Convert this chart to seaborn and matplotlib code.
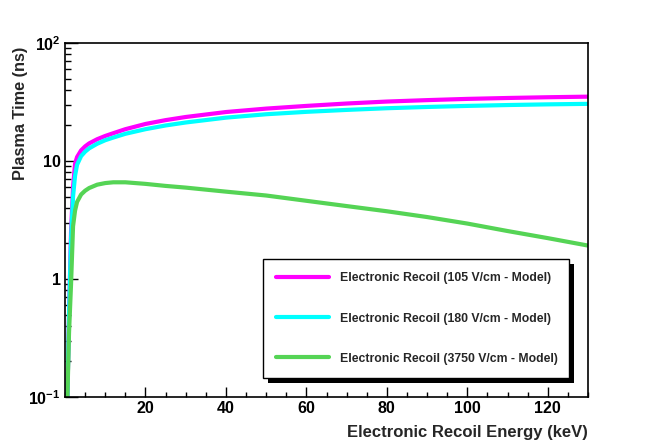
import numpy as np
import pandas as pd
import matplotlib
matplotlib.use("Agg")
import matplotlib.pyplot as plt
import seaborn as sns
from matplotlib.patches import Rectangle
from matplotlib.ticker import FixedLocator, MultipleLocator, LogLocator, NullFormatter

## Datos

energy = [0.6, 1.0, 1.5, 2.0, 2.5, 3, 4, 5, 6, 8, 10, 12, 15, 20, 25, 30,
          40, 50, 60, 70, 80, 90, 100, 110, 120, 130]

plasma_105 = [0.1, 0.5, 2.5, 6.0, 9.5, 10.8, 12.3, 13.3, 14.1, 15.3, 16.3, 17.2,
              18.6, 20.6, 22.2, 23.6, 26.0, 27.8, 29.3, 30.7, 31.9, 32.8, 33.6,
              34.2, 34.7, 35.1]

plasma_180 = [0.1, 0.5, 2.2, 5.0, 7.5, 9.3, 11.0, 12.0, 12.8, 14.0, 15.0, 15.8,
              17.0, 18.6, 20.0, 21.2, 23.3, 24.9, 26.1, 27.1, 28.0, 28.7, 29.3,
              29.8, 30.2, 30.5]

plasma_3750 = [0.1, 0.35, 0.9, 2.8, 3.8, 4.5, 5.2, 5.6, 5.9, 6.3, 6.5, 6.6,
               6.6, 6.4, 6.15, 5.95, 5.5, 5.1, 4.6, 4.15, 3.75, 3.35, 2.95,
               2.55, 2.22, 1.92]

series_labels = ["Electronic Recoil (105 V/cm - Model)",
                 "Electronic Recoil (180 V/cm - Model)",
                 "Electronic Recoil (3750 V/cm - Model)"]

colors = ["#ff00ff", "#00ffff", "#55d455"]

y_ticks = [0.1, 1, 10, 100]
y_ticklabels = ["10$^{-1}$", "1", "10", "10$^{2}$"]
x_ticks = [20, 40, 60, 80, 100, 120]

df = pd.DataFrame({
    "energy": energy * 3,
    "time": plasma_105 + plasma_180 + plasma_3750,
    "series": [series_labels[0]] * len(energy) + [series_labels[1]] * len(energy)
              + [series_labels[2]] * len(energy),
})

## Estilo

sns.set_style("white")
plt.rcParams["font.family"] = ["Liberation Sans", "DejaVu Sans"]
plt.rcParams["font.weight"] = "bold"
plt.rcParams["mathtext.fontset"] = "custom"
plt.rcParams["mathtext.rm"] = "Liberation Sans:bold"
plt.rcParams["mathtext.default"] = "rm"

fig = plt.figure(figsize=(6.54, 4.43), dpi=100)
ax = fig.add_axes([65 / 654, 1 - 397 / 443, 523 / 654, 354 / 443])

sns.lineplot(data=df, x="energy", y="time", hue="series", palette=colors,
             linewidth=3, sort=False, ax=ax)

ax.set_yscale("log")
ax.set_xlim(0, 130)
ax.set_ylim(0.1, 100)

for side in ["left", "bottom", "top", "right"]:
    ax.spines[side].set_color("black")
    ax.spines[side].set_linewidth(1.2)

ax.yaxis.set_major_locator(FixedLocator(y_ticks))
ax.set_yticklabels(y_ticklabels)
ax.yaxis.set_minor_locator(LogLocator(base=10, subs=np.arange(2, 10)))
ax.yaxis.set_minor_formatter(NullFormatter())
ax.set_xticks(x_ticks)
ax.xaxis.set_minor_locator(MultipleLocator(5))

ax.tick_params(axis="both", which="both", direction="in", left=True, bottom=True,
               top=False, right=False, colors="black", labelsize=11.5)
ax.tick_params(axis="y", which="major", length=9, width=1, pad=3)
ax.tick_params(axis="y", which="minor", length=4.5, width=1)
ax.tick_params(axis="x", which="major", length=7, width=1, pad=3)
ax.tick_params(axis="x", which="minor", length=3.6, width=1)
for lab in ax.get_xticklabels() + ax.get_yticklabels():
    lab.set_fontweight("bold")

ax.set_xlabel("Electronic Recoil Energy (keV)", fontsize=12, fontweight="bold",
              loc="right")
ax.set_ylabel("Plasma Time (ns)", fontsize=11.7, fontweight="bold", loc="top")
ax.xaxis.set_label_coords(1.0, -0.078)
ax.yaxis.set_label_coords(-0.07, 0.99)

## Leyenda

leg = ax.legend(loc="upper left", bbox_to_anchor=(0.3786, 0.0621, 0.5851, 0.3277),
                mode="expand", frameon=True, fancybox=False, framealpha=1,
                edgecolor="black", fontsize=8.8, handlelength=4.3,
                handletextpad=0.9, labelspacing=2.3, borderpad=1.1,
                borderaxespad=0)
leg.get_frame().set_linewidth(1)
for t in leg.get_texts():
    t.set_fontweight("bold")
for h in leg.get_lines():
    h.set_linewidth(3)

fig.canvas.draw()
bb = leg.get_window_extent().transformed(ax.transAxes.inverted())
shadow = Rectangle((bb.x0 + 5 / 523, bb.y0 - 5 / 354), bb.width, bb.height,
                   transform=ax.transAxes, facecolor="black", edgecolor="none",
                   zorder=leg.get_zorder() - 0.5, clip_on=False)
ax.add_patch(shadow)

fig.savefig("out.png", dpi=100)
